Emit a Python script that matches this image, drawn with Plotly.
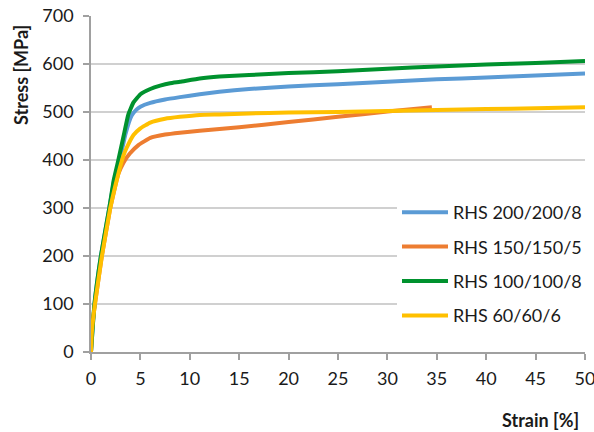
import plotly.graph_objects as go

series_names = ["RHS 200/200/8", "RHS 150/150/5", "RHS 100/100/8", "RHS 60/60/6"]
series_colors = ["#5B9BD5", "#ED7D31", "#00922E", "#FFC000"]

blue_x = [0, 0.35, 1.0, 1.85, 2.35, 2.9, 3.5, 4.1, 4.6, 5, 6, 7.5, 9, 11, 13, 16, 20, 25, 30, 35, 40, 45, 50]
blue_y = [0, 100, 200, 300, 358, 400, 455, 492, 505, 511, 519, 526, 531, 537, 542, 548, 553, 558, 563, 568, 572, 576, 580]

orange_x = [0, 0.1, 0.4, 1.1, 1.95, 2.75, 3.3, 3.95, 4.8, 6, 7.5, 9, 11, 15, 20, 25, 30, 34.5]
orange_y = [0, 45, 100, 200, 300, 370, 395, 414, 431, 446, 453, 457, 461, 468, 479, 490, 501, 510]

green_x = [0, 0.35, 1.0, 1.85, 2.3, 2.77, 3.3, 3.78, 4.3, 5, 6, 7, 8, 9, 11, 13, 16, 20, 25, 30, 35, 40, 45, 50]
green_y = [0, 100, 200, 300, 358, 400, 450, 495, 520, 537, 548, 555, 560, 563, 570, 574, 577, 581, 585, 590, 595, 599, 602, 606]

yellow_x = [0, 0.1, 0.4, 1.1, 1.95, 2.75, 3.3, 3.6, 4.3, 5, 6, 7.5, 9, 11, 13, 16, 20, 25, 30, 35, 40, 45, 50]
yellow_y = [0, 45, 100, 200, 300, 370, 410, 425, 452, 466, 478, 486, 490, 494, 495, 497, 499, 500, 502, 504, 506, 508, 510]

x_ticks = list(range(0, 51, 5))
y_ticks = list(range(0, 701, 100))

FONT = "Lato"
FS = 18
TXT = "#1a1a1a"

fig = go.Figure()
for i, (xs, ys) in enumerate([(blue_x, blue_y), (orange_x, orange_y), (green_x, green_y), (yellow_x, yellow_y)]):
    fig.add_trace(go.Scatter(
        x=xs, y=ys, mode="lines", name=series_names[i],
        line=dict(color=series_colors[i], width=4, shape="spline", smoothing=0.35),
        legendgroup=f"g{i}",
    ))

axis_color = "#A0A0A0"
fig.update_layout(
    width=594, height=432,
    margin=dict(l=91, r=9, t=16, b=80, autoexpand=False),
    paper_bgcolor="white", plot_bgcolor="white",
    font=dict(family=FONT, size=FS, color=TXT),
    showlegend=True,
    legend=dict(
        x=(397 - 91) / 494, y=(352 - 194) / 336, xanchor="left", yanchor="top",
        bgcolor="white", borderwidth=0,
        font=dict(family=FONT, size=FS, color=TXT),
        tracegroupgap=8, traceorder="grouped",
        itemwidth=46,
    ),
    xaxis=dict(
        range=[0, 50], tickvals=x_ticks, ticktext=[str(v) for v in x_ticks],
        showgrid=False, zeroline=False, automargin=False,
        showline=True, linecolor=axis_color, linewidth=1.5,
        ticks="outside", ticklen=6, tickcolor=axis_color, tickwidth=1.5,
        tickfont=dict(family=FONT, size=FS, color=TXT),
        ticklabeloverflow="allow", ticklabelstandoff=4,
    ),
    yaxis=dict(
        range=[0, 700], tickvals=y_ticks, ticktext=[str(v) for v in y_ticks],
        showgrid=True, gridcolor="#D0D0D0", gridwidth=1.5, zeroline=False, automargin=False,
        showline=True, linecolor=axis_color, linewidth=1.5,
        ticks="outside", ticklen=6, tickcolor=axis_color, tickwidth=1.5,
        tickfont=dict(family=FONT, size=FS, color=TXT),
        ticklabelstandoff=6,
    ),
    annotations=[
        dict(text="<b>Stress [MPa]</b>", textangle=-90, xref="paper", yref="paper",
             x=(21 - 91) / 494, y=(352 - 75) / 336, xanchor="center", yanchor="middle",
             showarrow=False, font=dict(family=FONT, size=FS, color=TXT)),
        dict(text="<b>Strain [%]</b>", xref="paper", yref="paper",
             x=(540 - 91) / 494, y=(352 - 420) / 336, xanchor="center", yanchor="middle",
             showarrow=False, font=dict(family=FONT, size=FS, color=TXT)),
    ],
)

fig.write_html("out.html")
